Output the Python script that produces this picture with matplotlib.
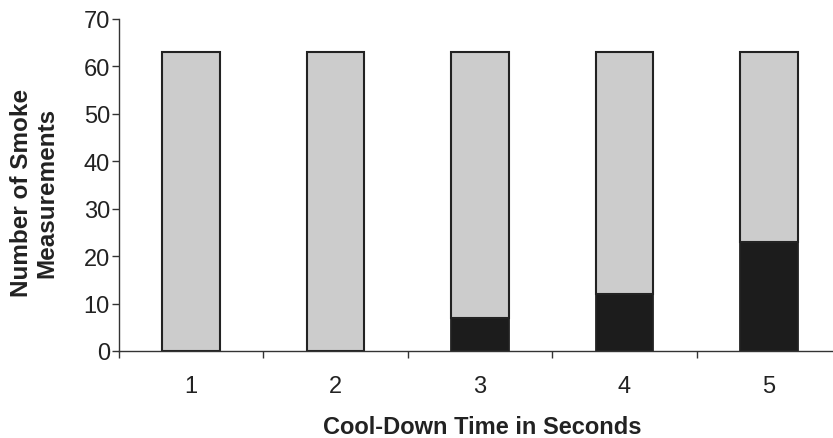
import matplotlib.pyplot as plt
import numpy as np

plt.rcParams['font.family'] = ['Liberation Sans', 'DejaVu Sans']

# data
cooldown = ['1', '2', '3', '4', '5']
smoke_yes = [0, 0, 7, 12, 23]
total = [63, 63, 63, 63, 63]
smoke_no = [t - s for t, s in zip(total, smoke_yes)]

W, H = 833, 439
fig = plt.figure(figsize=(W / 100, H / 100), dpi=100)
# axes box in pixels: left 119, right 841 (runs past edge), y0 at 352, y70 at 20
ax = fig.add_axes([119 / W, (H - 352) / H, (841 - 119) / W, (352 - 20) / H])

x = np.arange(1, len(cooldown) + 1)
bw = 0.40
ax.bar(x, smoke_yes, width=bw, color='#1c1c1c', edgecolor='#222222', linewidth=1.3)
ax.bar(x, smoke_no, width=bw, bottom=smoke_yes, color='#cccccc',
       edgecolor='#222222', linewidth=1.5)

ax.set_xlim(0.5, len(cooldown) + 0.5)
ax.set_ylim(0, 70)
ax.set_yticks(np.arange(0, 71, 10))

# labels at category centres, tick marks at the boundaries
ax.set_xticks(x)
ax.set_xticklabels(cooldown)
ax.set_xticks(np.arange(0.5, len(cooldown) + 0.6, 1), minor=True)
ax.tick_params(axis='x', which='major', length=0, pad=17, labelsize=17, colors='#222222')
ax.tick_params(axis='x', which='minor', length=5, width=1, color='#333333', direction='out')
ax.tick_params(axis='y', length=5, width=1, color='#333333', direction='out',
               labelsize=17, labelcolor='#222222', pad=1.5)

for s in ['top', 'right']:
    ax.spines[s].set_visible(False)
for s in ['left', 'bottom']:
    ax.spines[s].set_color('#333333')
    ax.spines[s].set_linewidth(1)

fig.text(482 / W, 1 - 428 / H, 'Cool-Down Time in Seconds', fontsize=17,
         fontweight='bold', color='#222222', ha='center', va='center')
fig.text(34 / W, 1 - 193 / H, 'Number of Smoke\nMeasurements', fontsize=17.5,
         fontweight='bold', color='#222222', ha='center', va='center',
         rotation=90, multialignment='center', linespacing=1.15)

fig.savefig('out.png', dpi=100, facecolor='white')
